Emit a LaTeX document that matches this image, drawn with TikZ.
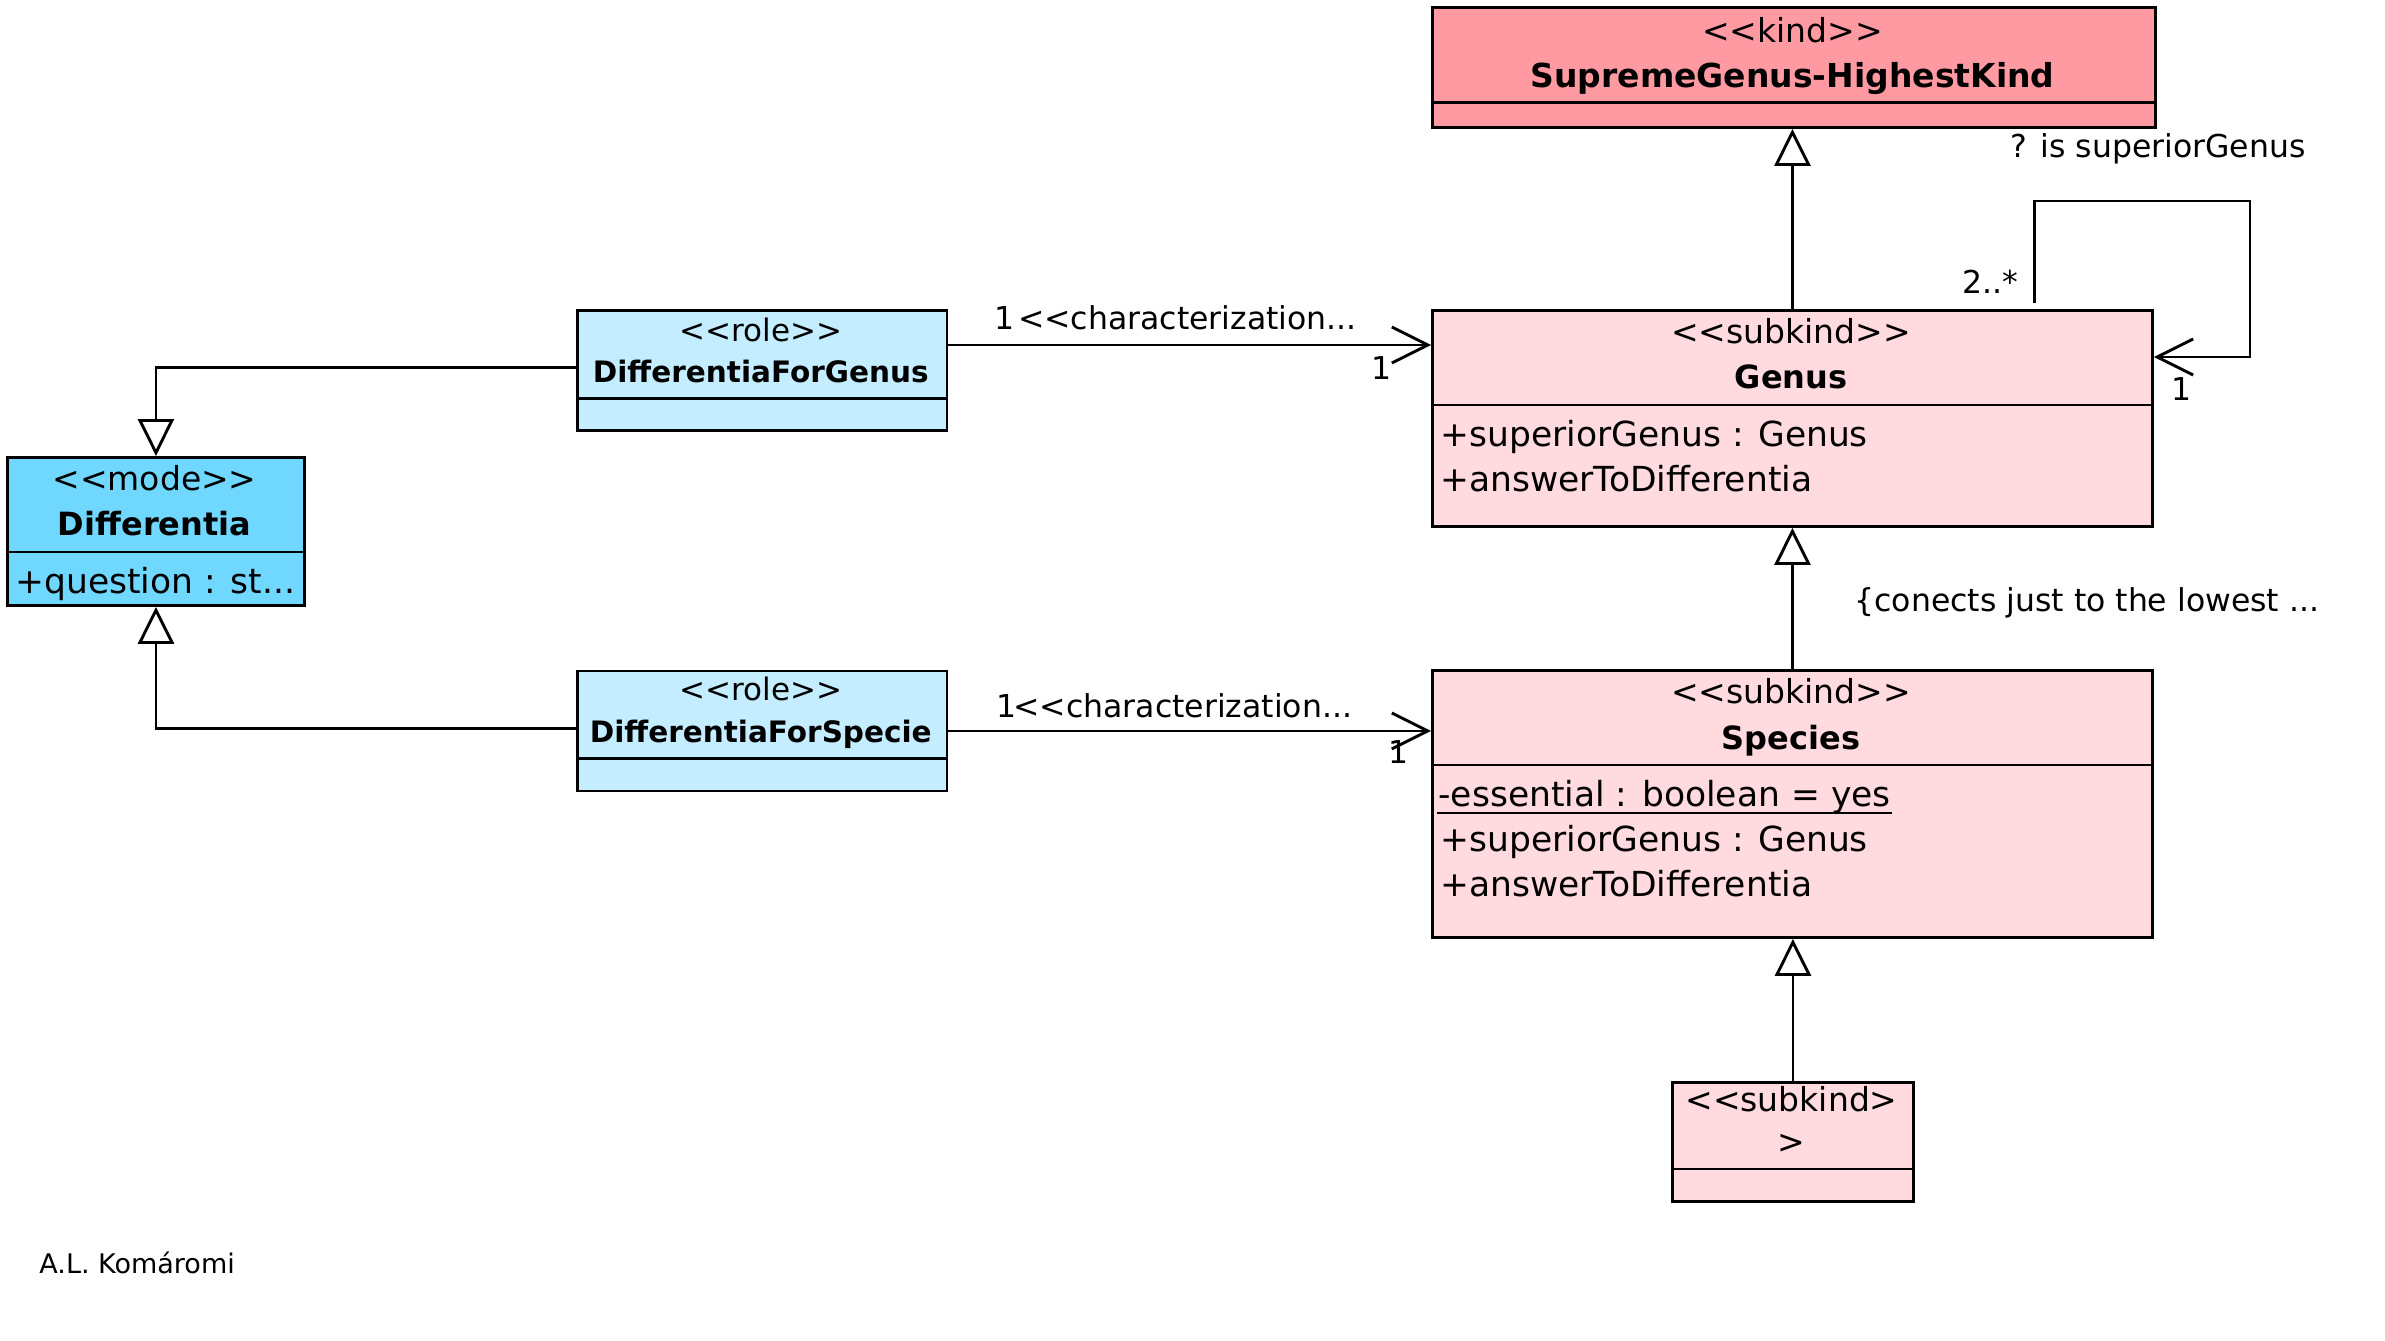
\documentclass[tikz,border=0pt]{standalone}
\usepackage{fontspec}
\setmainfont{DejaVu Sans}[Ligatures=TeXOff]
\usetikzlibrary{arrows.meta,calc}
\definecolor{kindred}{RGB}{255,153,162}
\definecolor{pinkl}{RGB}{255,218,223}
\definecolor{bluem}{RGB}{112,216,255}
\definecolor{bluel}{RGB}{196,237,255}
\newcommand{\fs}[1]{\fontsize{#1}{#1}\selectfont}
\begin{document}
\begin{tikzpicture}[x=1pt,y=-1pt,line width=2.9pt,
  box/.style={draw,inner sep=0pt,anchor=north west},
  txt/.style={inner sep=0pt,anchor=base,font=\fs{33}},
  btxt/.style={inner sep=0pt,anchor=base,font=\fs{32}\bfseries},
  attr/.style={inner sep=0pt,anchor=base west,font=\fs{34.5}},
  lbl/.style={inner sep=0pt,anchor=base west,font=\fs{31.5}},
  gen/.style={-{Triangle[open,length=37pt,width=36pt,fill=white,line width=2.9pt]}},
  assoc/.style={-{Straight Barb[length=36pt,width=36pt,line width=2.9pt]}}]
\useasboundingbox (0,0) rectangle (2385,1341);
% boxes
\node[box,fill=kindred,minimum width=723pt,minimum height=120pt] (supreme) at (1431,6) {};
\draw (supreme.west |- 0,102.5) -- (supreme.east |- 0,102.5);
\node[box,fill=pinkl,minimum width=720pt,minimum height=216pt] (genus) at (1431,309) {};
\draw (genus.west |- 0,405) -- (genus.east |- 0,405);
\node[box,fill=pinkl,minimum width=720pt,minimum height=267pt] (species) at (1431,669) {};
\draw (species.west |- 0,765) -- (species.east |- 0,765);
\node[box,fill=pinkl,minimum width=241pt,minimum height=119pt] (sub) at (1671,1081) {};
\draw (sub.west |- 0,1169) -- (sub.east |- 0,1169);
\node[box,fill=bluem,minimum width=297pt,minimum height=148pt] (diff) at (6,456) {};
\draw (diff.west |- 0,552) -- (diff.east |- 0,552);
\node[box,fill=bluel,minimum width=369.5pt,minimum height=120pt] (rg) at (576,309) {};
\draw (rg.west |- 0,398.8) -- (rg.east |- 0,398.8);
\node[box,fill=bluel,minimum width=369.5pt,minimum height=120pt] (rs) at (576,669.5) {};
\draw (rs.west |- 0,758.7) -- (rs.east |- 0,758.7);
% box texts
\node[txt] (t1) at (1792.5,42) {<<kind>>};
\node[btxt,font=\fs{33}\bfseries] (t2) at (1792.5,87.5) {SupremeGenus-HighestKind};
\node[txt] (t3) at (1791,343.5) {<<subkind>>};
\node[btxt] (t4) at (1791,388.5) {Genus};
\node[attr] (t5) at (1439,446) {+superiorGenus : Genus};
\node[attr] (t6) at (1439,491) {+answerToDifferentia};
\node[txt] (t7) at (1791,703) {<<subkind>>};
\node[btxt] (t8) at (1791,749.5) {Species};
\node[attr] (ess) at (1437,806) {-essential : boolean = yes};
\draw[line width=2.2pt] ([yshift=-7pt]ess.base west) -- ([yshift=-7pt]ess.base east);
\node[attr] (t9) at (1439,851) {+superiorGenus : Genus};
\node[attr] (t10) at (1439,896) {+answerToDifferentia};
\node[txt] (t11) at (1791.5,1111) {<<subkind>};
\node[txt] (t12) at (1791.5,1153.5) {>};
\node[txt] (t13) at (154.5,490.8) {<<mode>>};
\node[btxt] (t14) at (154.5,535.6) {Differentia};
\node[attr] (t15) at (14,593.4) {+question : st...};
\node[txt,font=\fs{31}] (t16) at (760.75,341.3) {<<role>>};
\node[btxt,font=\fs{29.5}\bfseries] (t17) at (760.75,382.6) {DifferentiaForGenus};
\node[txt,font=\fs{31}] (t18) at (760.75,700.9) {<<role>>};
\node[btxt,font=\fs{29.5}\bfseries] (t19) at (760.75,742.2) {DifferentiaForSpecie};
% generalizations
\draw[gen] (genus.north) -- (genus.north |- supreme.south);
\draw[gen] (species.north) -- (species.north |- genus.south);
\draw[gen] (sub.north) -- (sub.north |- species.south);
\draw[gen] ([yshift=3pt]rg.west) -| (diff.north);
\draw[gen] ([yshift=2.5pt]rs.west) -| (diff.south);
% associations
\coordinate (c1) at ($(rg.north east)+(0,36)$);
\draw[assoc] (c1) -- (c1 -| genus.west);
\draw[assoc] (rs.east) -- (rs.east -| species.west);
\coordinate (l0) at ($(genus.north west)+(603.5,-6)$);
\coordinate (l1) at ($(l0)+(0,-102)$);
\coordinate (l2) at ($(l1)+(215.5,0)$);
\coordinate (l3) at ($(l2)+(0,156)$);
\draw[assoc] (l0) -- (l1) -- (l2) -- (l3) -- (l3 -| genus.east);
% labels
\node[lbl] (m1) at (993,329.3) {1};
\node[lbl] (n1) at (1016.7,329) {<<characterization...};
\node[lbl] (m2) at (1370,379.3) {1};
\node[lbl] (m3) at (995,717.3) {1};
\node[lbl] (n2) at (1012,717.3) {<<characterization...};
\node[lbl] (m4) at (1387,763.3) {1};
\node[lbl] (m5) at (1961,293) {2..*};
\node[lbl] (m6) at (2170,400.7) {1};
\node[lbl] (n3) at (2009,157) {? is superiorGenus};
\node[lbl] (n4) at (1853,611) {\{conects just to the lowest ...};
\node[inner sep=0pt,anchor=base west,font=\fs{27}] (sig) at (38,1273.3) {A.L. Komáromi};
\end{tikzpicture}
\end{document}
